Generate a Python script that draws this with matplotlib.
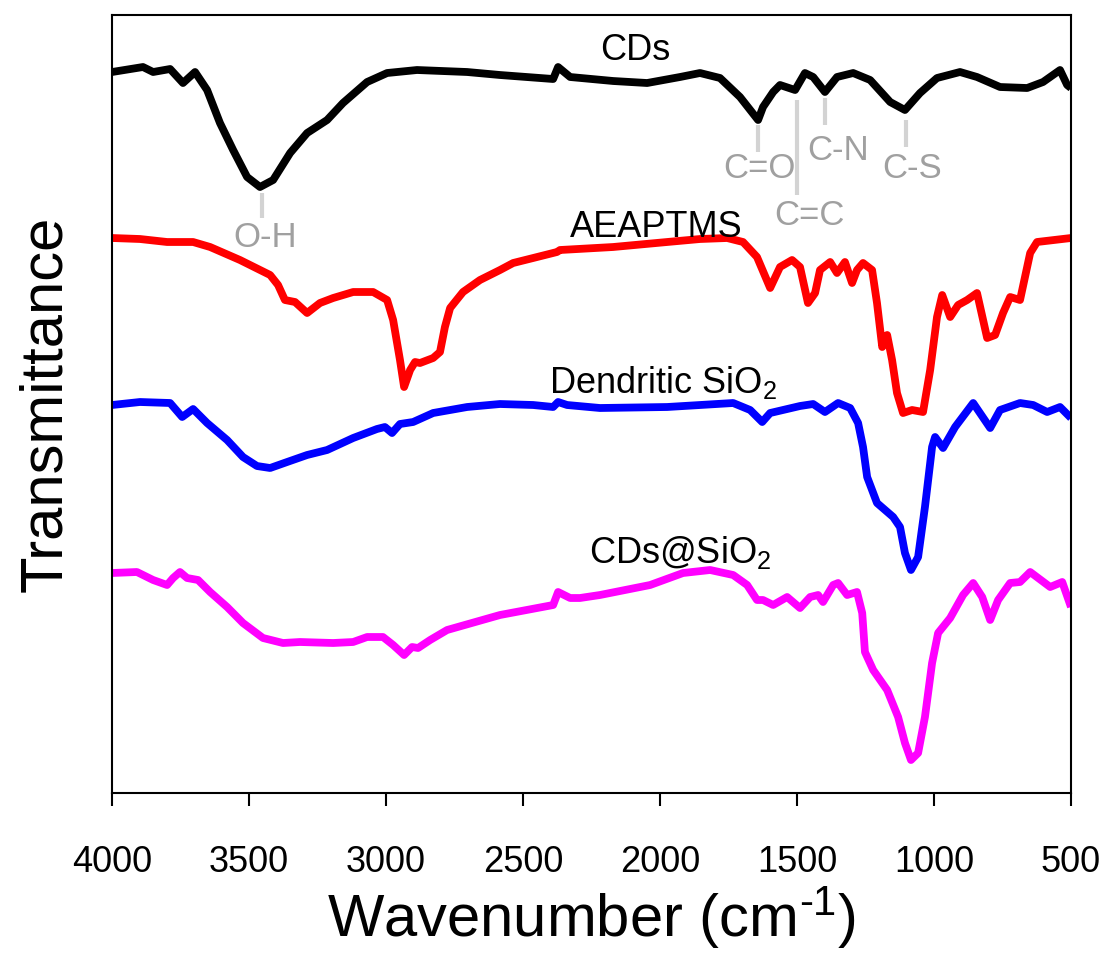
import matplotlib
matplotlib.use("Agg")
import matplotlib.pyplot as plt

plt.rcParams['font.family'] = ['Liberation Sans', 'DejaVu Sans']
plt.rcParams['mathtext.fontset'] = 'custom'
plt.rcParams['mathtext.rm'] = 'Liberation Sans'
plt.rcParams['mathtext.it'] = 'Liberation Sans:italic'
plt.rcParams['mathtext.bf'] = 'Liberation Sans:bold'

# FTIR spectra, wavenumber (cm-1) vs transmittance (a.u., curves offset)
cds_wn = [4000, 3887, 3850, 3788, 3741, 3697, 3653, 3606, 3558, 3507,
          3460, 3412, 3350, 3288, 3215, 3157, 3069, 2996, 2887, 2704,
          2584, 2390, 2372, 2328, 2171, 2047, 1927, 1854, 1781, 1708,
          1642, 1624, 1587, 1562, 1507, 1471, 1441, 1398, 1354, 1295,
          1233, 1160, 1106, 1051, 989, 905, 843, 759, 660, 602,
          540, 514, 500]
cds_t = [72.1, 72.6, 72.1, 72.4, 71.0, 72.1, 70.3, 67.0, 64.3, 61.6,
         60.6, 61.3, 64.0, 66.0, 67.3, 69.0, 71.1, 72.0, 72.3, 72.1,
         71.8, 71.4, 72.6, 71.6, 71.2, 71.0, 71.6, 72.0, 71.5, 69.6,
         67.3, 68.6, 70.1, 70.8, 70.3, 72.0, 71.6, 70.1, 71.6, 72.0,
         71.3, 69.1, 68.3, 70.0, 71.5, 72.1, 71.6, 70.6, 70.5, 71.1,
         72.3, 70.8, 70.5]

aeaptms_wn = [4000, 3898, 3799, 3704, 3642, 3533, 3423, 3394, 3369, 3332,
              3288, 3241, 3193, 3120, 3047, 2996, 2974, 2949, 2934, 2912,
              2894, 2876, 2828, 2803, 2785, 2766, 2719, 2657, 2584, 2536,
              2463, 2376, 2365, 2171, 1974, 1854, 1755, 1697, 1646, 1598,
              1562, 1518, 1489, 1460, 1434, 1416, 1379, 1354, 1325, 1299,
              1281, 1259, 1226, 1208, 1189, 1171, 1153, 1135, 1113, 1080,
              1040, 1014, 989, 970, 941, 912, 879, 843, 806, 777,
              748, 722, 686, 649, 624, 500]
aeaptms_t = [55.5, 55.4, 55.1, 55.1, 54.6, 53.3, 51.8, 50.8, 49.3, 49.1,
             48.0, 49.0, 49.5, 50.1, 50.1, 49.3, 47.3, 43.3, 40.6, 42.3,
             43.1, 43.0, 43.5, 44.1, 46.6, 48.5, 50.1, 51.3, 52.3, 53.0,
             53.5, 54.1, 54.3, 54.6, 55.1, 55.4, 55.5, 55.1, 53.6, 50.5,
             52.6, 53.3, 52.6, 49.0, 50.0, 52.3, 53.1, 52.0, 53.1, 51.0,
             52.3, 53.0, 52.3, 49.0, 44.6, 45.8, 43.3, 40.0, 38.0, 38.3,
             38.1, 42.3, 47.6, 49.8, 47.6, 48.8, 49.3, 50.0, 45.5, 45.8,
             48.0, 49.6, 49.3, 54.0, 55.1, 55.5]

dsio2_wn = [4000, 3898, 3788, 3744, 3704, 3653, 3580, 3522, 3471, 3423,
            3361, 3288, 3215, 3120, 3033, 3004, 2978, 2949, 2901, 2828,
            2704, 2584, 2463, 2390, 2372, 2339, 2219, 1974, 1733, 1671,
            1627, 1598, 1489, 1441, 1398, 1350, 1306, 1277, 1259, 1244,
            1208, 1149, 1124, 1106, 1084, 1058, 1033, 1007, 996, 967,
            923, 857, 795, 759, 686, 638, 587, 540, 500]
dsio2_t = [38.8, 39.1, 39.0, 37.6, 38.4, 37.0, 35.3, 33.6, 32.7, 32.5,
           33.1, 33.8, 34.3, 35.5, 36.4, 36.6, 36.0, 36.9, 37.1, 38.0,
           38.6, 38.9, 38.8, 38.6, 39.1, 38.8, 38.5, 38.6, 39.0, 38.3,
           37.1, 38.0, 38.7, 38.9, 38.1, 39.0, 38.5, 37.0, 34.6, 31.6,
           29.0, 27.6, 26.6, 24.0, 22.3, 23.6, 28.6, 34.6, 35.6, 34.5,
           36.6, 39.0, 36.5, 38.3, 39.0, 38.8, 38.1, 38.6, 37.5]

cdsio2_wn = [4000, 3909, 3850, 3799, 3777, 3752, 3726, 3686, 3642, 3580,
             3522, 3449, 3376, 3314, 3193, 3120, 3069, 3011, 2974, 2934,
             2905, 2883, 2839, 2777, 2584, 2390, 2372, 2328, 2292, 2219,
             2036, 1916, 1817, 1733, 1682, 1646, 1624, 1587, 1536, 1489,
             1452, 1423, 1405, 1368, 1350, 1317, 1281, 1262, 1252, 1222,
             1171, 1131, 1106, 1084, 1058, 1033, 1007, 985, 941, 894,
             857, 824, 795, 766, 722, 686, 649, 576, 532, 500]
cdsio2_t = [22.0, 22.1, 21.3, 20.8, 21.5, 22.1, 21.5, 21.3, 20.1, 18.6,
            17.0, 15.5, 15.0, 15.1, 15.0, 15.1, 15.6, 15.6, 14.8, 13.8,
            14.6, 14.5, 15.3, 16.3, 17.8, 18.8, 20.1, 19.5, 19.5, 19.8,
            20.8, 22.0, 22.3, 21.8, 20.8, 19.3, 19.3, 18.8, 19.6, 18.5,
            19.6, 19.8, 19.1, 20.8, 21.0, 19.8, 20.1, 18.0, 14.1, 12.3,
            10.3, 7.6, 5.0, 3.3, 4.0, 7.6, 13.0, 16.0, 17.5, 19.8,
            21.0, 19.6, 17.3, 19.3, 21.0, 21.1, 22.1, 20.6, 21.1, 18.6]

series_names = ['CDs', 'AEAPTMS', 'Dendritic SiO$_2$', 'CDs@SiO$_2$']
series_colors = ['black', '#ff0000', '#0000ff', '#ff00ff']

# band assignments on the CDs spectrum
band_names = ['O-H', 'C=O', 'C=C', 'C-N', 'C-S']
band_wn = [3452, 1642, 1500, 1398, 1102]

fig = plt.figure(figsize=(11.08, 9.56), dpi=100)
ax = fig.add_axes([0.1011, 0.1705, 0.8655, 0.8138])

spectra = [(cds_wn, cds_t), (aeaptms_wn, aeaptms_t),
           (dsio2_wn, dsio2_t), (cdsio2_wn, cdsio2_t)]
for (wn, t), c in zip(spectra, series_colors):
    ax.plot(wn, t, color=c, lw=5.6, solid_joinstyle='round', solid_capstyle='butt')

# curve labels: (x, baseline y)
label_pos = [(2091, 73.3), (2014, 55.6), (1989, 40.0), (1927, 23.0)]
for name, (x, y) in zip(series_names, label_pos):
    ax.text(x, y, name, fontsize=26, ha='center', va='baseline')

# band marker lines (y0, y1) and label (x, baseline y)
mark_y = [(60.0, 57.5), (66.8, 64.1), (69.3, 59.8), (69.5, 66.8), (67.3, 64.6)]
mark_txt = [(3442, 54.6), (1638, 61.5), (1456, 56.8), (1350, 63.3), (1080, 61.5)]
for name, w, (y0, y1), (tx, ty) in zip(band_names, band_wn, mark_y, mark_txt):
    ax.plot([w, w], [y0, y1], color='#d3d3d3', lw=3, solid_capstyle='butt')
    ax.text(tx, ty, name, fontsize=25, color='#a0a0a0', ha='center', va='baseline')

ax.set_xlim(4000, 500)
ax.set_ylim(0, 77.8)
ax.set_xticks([4000, 3500, 3000, 2500, 2000, 1500, 1000, 500])
ax.set_yticks([])
ax.tick_params(axis='x', direction='out', length=9.5, width=1.5, labelsize=26, pad=28)
for s in ax.spines.values():
    s.set_linewidth(1.5)

ax.set_xlabel(r'Wavenumber (cm$^{\text{-1}}$)', fontsize=43, labelpad=3)
ax.set_ylabel('Transmittance', fontsize=43, labelpad=28)

fig.savefig('out.png', dpi=100)
